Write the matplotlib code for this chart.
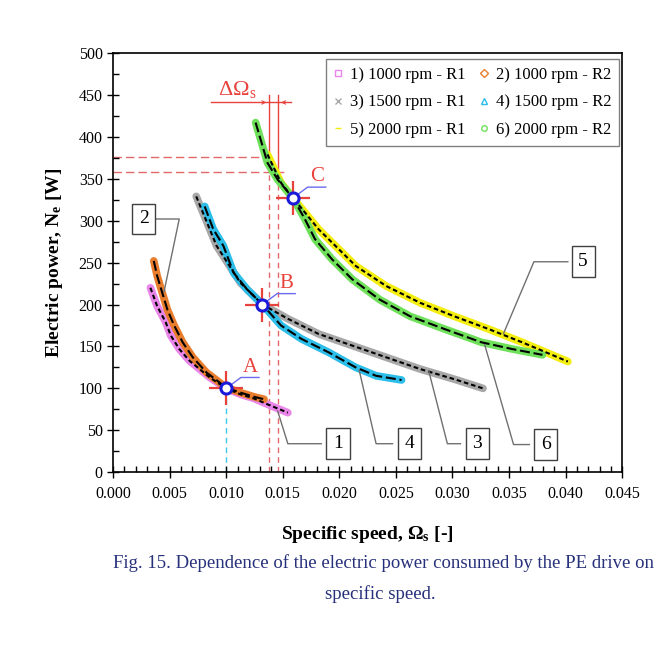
import numpy as np
import matplotlib.pyplot as plt
from matplotlib.lines import Line2D
from matplotlib.ticker import MultipleLocator, FormatStrFormatter

plt.rcParams['font.family'] = 'Liberation Serif'
plt.rcParams['mathtext.fontset'] = 'custom'
plt.rcParams['mathtext.rm'] = 'Liberation Serif'
plt.rcParams['mathtext.it'] = 'Liberation Serif:italic'
plt.rcParams['mathtext.bf'] = 'Liberation Serif:bold'

# measured curves, specific speed [-] vs electric power [W]
om1 = [0.0033, 0.0039, 0.00465, 0.0051, 0.00585, 0.00675, 0.00765, 0.00855, 0.0100, 0.01125, 0.01245, 0.01365, 0.01545]
ne1 = [220, 198, 179, 163, 147, 133, 123, 113, 100, 93, 88, 81, 71]

om2 = [0.0036, 0.0039, 0.00435, 0.0048, 0.0054, 0.00615, 0.00705, 0.00825, 0.0100, 0.01125, 0.01245, 0.01335]
ne2 = [252, 234, 214, 194, 175, 155, 137, 119, 101, 95, 90, 87]

om3 = [0.00735, 0.00915, 0.01125, 0.0132, 0.01545, 0.01815, 0.02115, 0.02415, 0.02715, 0.03015, 0.0327]
ne3 = [329, 270, 226, 200, 183, 165, 151, 137, 123, 111, 100]

om4 = [0.0081, 0.00885, 0.00975, 0.01065, 0.01185, 0.0132, 0.01485, 0.01665, 0.01905, 0.02145, 0.02325, 0.0255]
ne4 = [317, 290, 270, 238, 218, 200, 175, 159, 143, 125, 115, 110]

om5 = [0.01365, 0.01485, 0.0159, 0.01695, 0.01815, 0.01965, 0.02145, 0.02415, 0.02715, 0.03015, 0.03315, 0.03615, 0.0402]
ne5 = [379, 345, 327, 310, 290, 270, 246, 222, 202, 186, 171, 155, 132]

om6 = [0.0126, 0.01365, 0.01455, 0.0159, 0.01695, 0.01785, 0.01935, 0.02115, 0.02355, 0.02625, 0.02925, 0.03255, 0.03525, 0.03795]
ne6 = [417, 369, 349, 327, 302, 278, 254, 230, 206, 186, 171, 155, 147, 140]

labels = ['1) 1000 rpm - R1', '2) 1000 rpm - R2', '3) 1500 rpm - R1',
          '4) 1500 rpm - R2', '5) 2000 rpm - R1', '6) 2000 rpm - R2']
colours = ['#ea86ea', '#e97d2e', '#a8a8a8', '#2cbde8', '#f4ee10', '#6fe05a']
markers = ['s', 'D', 'x', '^', '_', 'o']

# operating points A, B, C
pt_names = ['A', 'B', 'C']
pt_om = [0.0100, 0.0132, 0.0159]
pt_ne = [100, 200, 327]

# delta Omega_s construction
dom_left, dom_right = 0.0138, 0.0146
ne_left, ne_right = 376, 358

fig = plt.figure(figsize=(6.69, 6.46), dpi=100)
ax = fig.add_axes([0.169, 0.269, 0.761, 0.649])

short = (2.2, 1.4)
long_ = (4.8, 1.8)
series = [(om1, ne1, short), (om2, ne2, long_), (om3, ne3, short),
          (om4, ne4, long_), (om5, ne5, short), (om6, ne6, long_)]
for i, (x, y, d) in enumerate(series):
    ax.plot(x, y, color=colours[i], lw=5.5, solid_capstyle='round',
            solid_joinstyle='round', zorder=2)
for i, (x, y, d) in enumerate(series):
    ax.plot(x, y, color='black', lw=1.5, dashes=d, zorder=3)

red = '#e8423c'
red_d = '#e2696a'
# dashed guides
ax.plot([dom_left, dom_left], [0, ne_left], color=red_d, lw=1, dashes=(4, 3), zorder=1)
ax.plot([dom_right, dom_right], [0, ne_right], color=red_d, lw=1, dashes=(4, 3), zorder=1)
ax.plot([0, dom_left], [ne_left, ne_left], color=red_d, lw=1, dashes=(6, 3), zorder=1)
ax.plot([0, dom_right + 0.0005], [ne_right, ne_right], color=red_d, lw=1, dashes=(6, 3), zorder=1)
ax.plot([dom_left, dom_left], [ne_left, 450], color=red, lw=1, zorder=1)
ax.plot([dom_right, dom_right], [ne_right, 450], color=red, lw=1, zorder=1)
ax.plot([0.0087, 0.0157], [441, 441], color=red, lw=1, zorder=1)
ax.annotate('', xy=(dom_left, 441), xytext=(dom_left - 0.0006, 441),
            arrowprops=dict(arrowstyle='->', color=red, lw=0.8, mutation_scale=6))
ax.annotate('', xy=(dom_right, 441), xytext=(dom_right + 0.0006, 441),
            arrowprops=dict(arrowstyle='->', color=red, lw=0.8, mutation_scale=6))
ax.text(0.0110, 444, r'ΔΩ$_\mathrm{s}$', color=red, fontsize=16, ha='center', va='bottom')
ax.plot([pt_om[0], pt_om[0]], [0, pt_ne[0]], color='#3cc8e8', lw=1, dashes=(4, 3), zorder=1)

# points with leaders
for name, x, y in zip(pt_names, pt_om, pt_ne):
    ax.plot(x, y, marker='+', ms=24, mew=1.6, color=red, zorder=5)
    ax.plot(x, y, 'o', ms=8, mfc='white', mec='#1a1ad8', mew=2.2, zorder=6)
    ax.plot([x, x + 0.0013, x + 0.0029], [y, y + 13, y + 13], color='#6a6af0', lw=1, zorder=4)
    ax.text(x + 0.0021, y + 14, name, color=red, fontsize=15, ha='center', va='bottom')

# numbered boxes with leaders: box position, elbow, curve end
boxes = [('1', 0.0199, 34, [0.0184, 0.01545, 0.01455], [34, 34, 73]),
         ('2', 0.0027, 302, [0.0031, 0.00585, 0.0045], [302, 302, 215]),
         ('3', 0.0322, 34, [0.0307, 0.02955, 0.0279], [34, 34, 121]),
         ('4', 0.0262, 34, [0.0247, 0.02325, 0.02175], [34, 34, 122]),
         ('5', 0.04155, 251, [0.0402, 0.0372, 0.0345], [251, 251, 165]),
         ('6', 0.03825, 33, [0.0368, 0.0354, 0.03285], [33, 33, 152])]
for n, bx, by, lx, ly in boxes:
    ax.plot(lx, ly, color='#707070', lw=1, zorder=4)
    ax.text(bx, by, n, fontsize=14, ha='center', va='center', zorder=7,
            bbox=dict(boxstyle='square,pad=0.35', fc='white', ec='#404040', lw=1))

ax.set_xlim(0, 0.045)
ax.set_ylim(0, 500)
ax.xaxis.set_major_locator(MultipleLocator(0.005))
ax.xaxis.set_minor_locator(MultipleLocator(0.001))
ax.yaxis.set_major_locator(MultipleLocator(50))
ax.yaxis.set_minor_locator(MultipleLocator(25))
ax.xaxis.set_major_formatter(FormatStrFormatter('%.3f'))
ax.tick_params(which='major', direction='inout', length=8, width=1, labelsize=11.5)
ax.tick_params(which='minor', direction='in', length=4, width=1)
ax.tick_params(axis='x', pad=6)
for s in ax.spines.values():
    s.set_linewidth(1.2)

ax.set_xlabel(r'Specific speed, Ω$_\mathbf{s}$ [-]', fontsize=14, fontweight='bold', labelpad=16)
ax.set_ylabel(r'Electric power, N$_\mathbf{e}$ [W]', fontsize=14, fontweight='bold', labelpad=10)

handles = []
for i in [0, 2, 4, 1, 3, 5]:
    handles.append(Line2D([], [], ls='none', marker=markers[i], mfc='none',
                          mec=colours[i], ms=4, mew=1, label=labels[i]))
leg = ax.legend(handles=handles, ncol=2, loc='upper right', fontsize=12,
                handlelength=0.6, handletextpad=0.4, columnspacing=0.8,
                borderpad=0.45, labelspacing=0.7, fancybox=False,
                edgecolor='#808080', framealpha=1, borderaxespad=0,
                bbox_to_anchor=(0.993, 0.985))
leg.get_frame().set_linewidth(1)

fig.text(0.573, 0.128, 'Fig. 15. Dependence of the electric power consumed by the PE drive on',
         ha='center', va='center', fontsize=13.5, color='#27307a')
fig.text(0.568, 0.080, 'specific speed.', ha='center', va='center', fontsize=13.5, color='#27307a')

fig.savefig('out.png', dpi=100)
